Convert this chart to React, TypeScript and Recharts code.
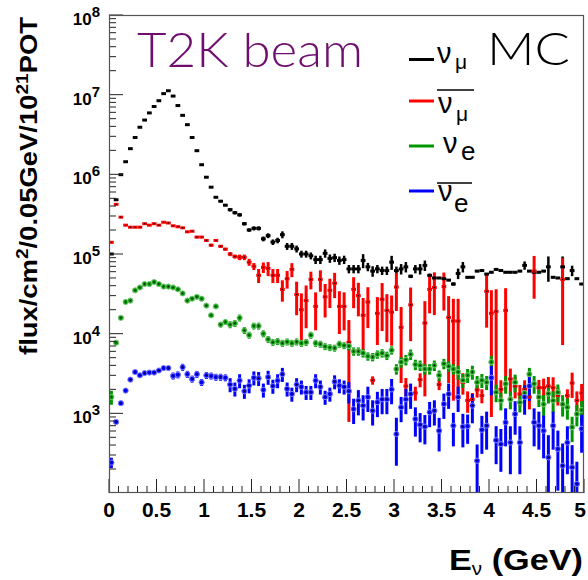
import React from 'react';
import { ComposedChart, Scatter, XAxis, YAxis, ErrorBar } from 'recharts';

// ---------------- data (flux per 0.05 GeV bin, 100 bins from 0 to 5 GeV) ----------------
const BIN_WIDTH = 0.05;
const N_BINS = 100;
const binCenters = Array.from({ length: N_BINS }, (_, i) => Math.round((i + 0.5) * BIN_WIDTH * 1000) / 1000);

const numu = [
  1.0e5, 4.8e5, 9.9e5, 1.44e6, 2.1e6, 2.9e6, 3.9e6, 4.8e6, 5.9e6, 7.1e6,
  8.4e6, 1.03e7, 1.12e7, 9.6e6, 7.3e6, 5.5e6, 4.2e6, 2.9e6, 1.98e6, 1.32e6,
  9.2e5, 6.9e5, 5.15e5, 4.6e5, 4.1e5, 3.6e5, 3.3e5, 3.1e5, 2.4e5, 2.0e5,
  2.1e5, 2.1e5, 1.55e5, 1.7e5, 1.41e5, 1.48e5, 1.75e5, 1.25e5, 1.25e5, 1.16e5,
  1.0e5, 1.0e5, 9.5e4, 8.5e4, 8.5e4, 1.02e5, 8.8e4, 9.0e4, 8.3e4, 8.5e4,
  6.5e4, 6.5e4, 6.5e4, 8.3e4, 6.9e4, 6.1e4, 6.5e4, 6.2e4, 6.2e4, 7.9e4,
  6.2e4, 6.5e4, 6.9e4, 5.25e4, 6.5e4, 6.5e4, 7.2e4, 5.4e4, 5.0e4, 5.0e4,
  4.9e4, 4.7e4, 4.2e4, 5.7e4, 6.9e4, 5.1e4, 5.1e4, 6.1e4, 6.2e4, 5.6e4,
  5.9e4, 6.4e4, 6.2e4, 5.9e4, 5.9e4, 5.9e4, 6.1e4, 7.2e4, 6.1e4, 5.9e4,
  5.9e4, 6.1e4, 6.9e4, 5.1e4, 5.0e4, 6.9e4, 4.9e4, 6.2e4, 4.9e4, 4.2e4,
];
const numuRelErr = [
  0.01, 0.01, 0.01, 0.01, 0.01, 0.01, 0.01, 0.01, 0.01, 0.01,
  0.01, 0.01, 0.01, 0.01, 0.01, 0.01, 0.01, 0.01, 0.01, 0.01,
  0.02, 0.02, 0.02, 0.03, 0.03, 0.05, 0.05, 0.05, 0.05, 0.05,
  0.06, 0.06, 0.07, 0.07, 0.08, 0.08, 0.1, 0.1, 0.1, 0.1,
  0.1, 0.1, 0.1, 0.12, 0.12, 0.12, 0.12, 0.12, 0.12, 0.12,
  0.12, 0.12, 0.12, 0.2, 0.12, 0.15, 0.12, 0.12, 0.12, 0.2,
  0.12, 0.15, 0.15, 0.05, 0.12, 0.15, 0.15, 0.05, 0.03, 0.03,
  0.03, 0.03, 0.05, 0.15, 0.15, 0.03, 0.03, 0.03, 0.03, 0.03,
  0.03, 0.03, 0.03, 0.03, 0.03, 0.03, 0.03, 0.12, 0.03, 0.03,
  0.03, 0.03, 0.35, 0.03, 0.03, 0.35, 0.03, 0.15, 0.03, 0.03,
];

const numubar = [
  1.4e5, 4.2e5, 2.9e5, 2.3e5, 2.17e5, 2.17e5, 2.17e5, 2.4e5, 2.3e5, 2.4e5,
  2.3e5, 2.5e5, 2.45e5, 2.26e5, 2.2e5, 2.13e5, 1.9e5, 1.93e5, 1.63e5, 1.63e5,
  1.48e5, 1.29e5, 1.48e5, 1.25e5, 1.15e5, 1.0e5, 9.3e4, 9.1e4, 9.1e4, 7.9e4,
  7.0e4, 5.4e4, 6.8e4, 6.6e4, 5.4e4, 5.4e4, 3.6e4, 4.9e4, 6.4e4, 3.1e4,
  2.0e4, 2.6e4, 4.8e4, 2.2e4, 4.8e4, 2.9e4, 3.5e4, 4.3e4, 2.2e4, 2.2e4,
  7.8e3, 3.6e4, 3.0e4, 1.7e4, 2.5e4, 2.6e3, 1.8e4, 2.7e4, 1.96e4, 1.86e4,
  3.85e4, 1.2e4, 2.2e3, 2.3e4, 1.8e3, 2.65e3, 1.36e4, 3.6e4, 3.8e4, 2.3e3,
  3.9e4, 1.6e4, 1.44e4, 1.44e4, 2.45e3, 1.45e3, 1.5e3, 1.97e3, 1.67e3, 3.4e4,
  1.8e4, 1.9e4, 2.0e3, 1.96e4, 2.7e3, 2.2e3, 1.75e3, 2.0e3, 1.6e3, 6.1e4,
  2.1e3, 2.1e3, 2.2e3, 2.1e3, 1.67e3, 4.8e4, 1.67e3, 2.4e3, 1.45e3, 1.8e3,
];
const numubarRelErr = [
  0.02, 0.02, 0.02, 0.02, 0.02, 0.02, 0.02, 0.02, 0.02, 0.02,
  0.02, 0.02, 0.02, 0.02, 0.02, 0.02, 0.02, 0.02, 0.03, 0.03,
  0.03, 0.04, 0.04, 0.04, 0.04, 0.06, 0.06, 0.08, 0.08, 0.1,
  0.1, 0.2, 0.15, 0.2, 0.2, 0.2, 0.3, 0.25, 0.2, 0.45,
  0.6, 0.55, 0.25, 0.5, 0.3, 0.45, 0.4, 0.35, 0.55, 0.5,
  0.9, 0.42, 0.45, 0.65, 0.53, 0.12, 0.6, 0.6, 0.6, 0.62,
  0.5, 0.8, 0.26, 0.65, 0.2, 0.2, 0.88, 0.5, 0.55, 0.15,
  0.5, 0.85, 0.9, 0.9, 0.3, 0.3, 0.2, 0.2, 0.2, 0.65,
  0.95, 0.9, 0.3, 0.9, 0.35, 0.3, 0.3, 0.3, 0.3, 0.55,
  0.25, 0.3, 0.3, 0.35, 0.25, 0.85, 0.2, 0.35, 0.3, 0.3,
];

const nue = [
  1.6e3, 7.7e3, 1.58e4, 2.5e4, 2.6e4, 3.5e4, 3.8e4, 4.2e4, 4.2e4, 4.45e4,
  4.2e4, 3.9e4, 3.9e4, 3.8e4, 3.6e4, 3.2e4, 2.6e4, 2.75e4, 2.9e4, 2.75e4,
  2.25e4, 1.7e4, 2.2e4, 1.3e4, 1.4e4, 1.3e4, 1.35e4, 1.58e4, 1.1e4, 9.6e3,
  1.25e4, 1.25e4, 1.0e4, 8.5e3, 7.8e3, 8.0e3, 7.6e3, 7.9e3, 7.6e3, 7.9e3,
  7.6e3, 7.8e3, 9.6e3, 7.6e3, 7.4e3, 6.9e3, 6.7e3, 6.6e3, 7.4e3, 7.1e3,
  7.0e3, 6.0e3, 6.0e3, 5.7e3, 5.2e3, 5.1e3, 5.5e3, 5.7e3, 5.3e3, 6.2e3,
  3.6e3, 4.4e3, 4.7e3, 5.5e3, 4.1e3, 4.0e3, 3.6e3, 3.6e3, 4.0e3, 3.0e3,
  4.2e3, 3.9e3, 3.6e3, 3.3e3, 2.6e3, 3.0e3, 3.3e3, 2.45e3, 2.6e3, 2.45e3,
  4.4e3, 1.84e3, 1.45e3, 2.35e3, 1.5e3, 2.45e3, 1.37e3, 1.8e3, 3.1e3, 2.35e3,
  1.6e3, 1.3e3, 1.77e3, 1.45e3, 1.84e3, 1.3e3, 1.19e3, 670, 980, 1.1e3,
];
const nueRelErr = [
  0.2, 0.03, 0.03, 0.03, 0.03, 0.03, 0.03, 0.03, 0.03, 0.03,
  0.05, 0.05, 0.05, 0.05, 0.05, 0.05, 0.05, 0.05, 0.05, 0.05,
  0.06, 0.06, 0.06, 0.08, 0.08, 0.1, 0.1, 0.1, 0.1, 0.1,
  0.1, 0.1, 0.1, 0.1, 0.1, 0.1, 0.1, 0.1, 0.1, 0.1,
  0.1, 0.1, 0.1, 0.1, 0.1, 0.1, 0.1, 0.1, 0.1, 0.1,
  0.12, 0.12, 0.12, 0.12, 0.12, 0.12, 0.12, 0.12, 0.12, 0.12,
  0.15, 0.15, 0.15, 0.15, 0.15, 0.15, 0.15, 0.15, 0.15, 0.15,
  0.15, 0.15, 0.15, 0.2, 0.2, 0.2, 0.2, 0.2, 0.2, 0.2,
  0.2, 0.25, 0.25, 0.25, 0.25, 0.25, 0.25, 0.25, 0.2, 0.25,
  0.25, 0.3, 0.25, 0.3, 0.25, 0.3, 0.3, 0.35, 0.3, 0.3,
];

const nuebar = [
  241, 780, 1.34e3, 1.93e3, 2.65e3, 3.3e3, 3.0e3, 3.2e3, 3.25e3, 3.25e3,
  3.45e3, 3.7e3, 3.7e3, 2.95e3, 3.05e3, 3.8e3, 3.1e3, 2.7e3, 3.1e3, 2.45e3,
  3.0e3, 2.95e3, 2.85e3, 2.85e3, 2.8e3, 2.3e3, 2.03e3, 2.58e3, 1.9e3, 2.23e3,
  2.8e3, 2.75e3, 1.97e3, 2.85e3, 2.2e3, 2.58e3, 3.1e3, 2.03e3, 1.75e3, 2.3e3,
  2.15e3, 1.84e3, 1.84e3, 2.58e3, 2.15e3, 1.6e3, 1.75e3, 2.5e3, 2.23e3, 2.15e3,
  1.9e3, 1.13e3, 1.45e3, 1.25e3, 1.6e3, 1.08e3, 1.38e3, 1.5e3, 1.5e3, 2.0e3,
  550, 1.19e3, 1.5e3, 1.75e3, 850, 720, 680, 1.03e3, 1.08e3, 605,
  1.31e3, 1.75e3, 700, 1.6e3, 680, 690, 1.25e3, 254, 620, 700,
  2.8e3, 460, 410, 770, 430, 980, 430, 1.6e3, 2.2e3, 770,
  700, 605, 280, 700, 357, 220, 430, 210, 130, 640,
];
const nuebarRelErr = [
  0.15, 0.05, 0.05, 0.05, 0.05, 0.05, 0.05, 0.05, 0.05, 0.05,
  0.05, 0.05, 0.05, 0.1, 0.1, 0.1, 0.1, 0.1, 0.1, 0.1,
  0.1, 0.1, 0.1, 0.1, 0.1, 0.2, 0.2, 0.2, 0.2, 0.2,
  0.2, 0.2, 0.2, 0.2, 0.2, 0.2, 0.2, 0.2, 0.2, 0.2,
  0.2, 0.2, 0.2, 0.2, 0.2, 0.2, 0.2, 0.2, 0.2, 0.2,
  0.3, 0.35, 0.35, 0.35, 0.35, 0.35, 0.35, 0.35, 0.35, 0.35,
  0.6, 0.35, 0.35, 0.35, 0.4, 0.4, 0.4, 0.35, 0.35, 0.45,
  0.35, 0.35, 0.45, 0.35, 0.45, 0.4, 0.4, 0.6, 0.5, 0.5,
  0.4, 0.5, 0.55, 0.5, 0.6, 0.45, 0.6, 0.4, 0.35, 0.5,
  0.5, 0.55, 0.9, 0.5, 0.7, 0.9, 0.6, 0.9, 0.9, 0.5,
];

// ---------------- axis ticks ----------------
const Y_MIN = 100;
const Y_MAX = 1e8;
const yTicks: number[] = [];
for (let n = 2; n <= 7; n++) {
  for (let m = 1; m <= 9; m++) {
    const v = m * Math.pow(10, n);
    if (v > Y_MIN) yTicks.push(v);
  }
}
yTicks.push(Y_MAX);
const X_MAX = 5;
const xTicks = Array.from({ length: 51 }, (_, i) => i / 10);

// ---------------- layout ----------------
const W = 588;
const H = 580;
const PLOT_LEFT = 109;
const PLOT_TOP = 15;
const PLOT_RIGHT = 584;
const PLOT_BOTTOM = 493;
const BIN_PX = (PLOT_RIGHT - PLOT_LEFT) / N_BINS;
const FONT = "'Liberation Sans', Arial, Helvetica, sans-serif";
const TITLE_FONT = "Lato, 'Open Sans', sans-serif";

const COLORS = {
  numu: '#000000',
  numubar: '#ff0000',
  nue: '#009600',
  nuebar: '#0000ff',
};

function buildSeries(values: number[], relErr: number[]) {
  return values.map((v, i) => {
    const s = v * relErr[i];
    const low = Math.min(s, v - Y_MIN * 1.002);
    return { e: binCenters[i], flux: v, err: [low, s] };
  });
}

const numuData = buildSeries(numu, numuRelErr);
const numubarData = buildSeries(numubar, numubarRelErr);
const nueData = buildSeries(nue, nueRelErr);
const nuebarData = buildSeries(nuebar, nuebarRelErr);

const dashShape = (color: string, dot: boolean) => (props: any) => {
  const { cx, cy } = props;
  if (cx == null || cy == null || isNaN(cx) || isNaN(cy)) return <g />;
  return (
    <g>
      <rect x={cx - BIN_PX / 2} y={cy - 1.5} width={BIN_PX} height={3} fill={color} />
      {dot && <rect x={cx - 0.6} y={cy - 0.6} width={1.2} height={1.2} fill="#000" />}
    </g>
  );
};

const circleShape = (color: string, halo: string) => (props: any) => {
  const { cx, cy } = props;
  if (cx == null || cy == null || isNaN(cx) || isNaN(cy)) return <g />;
  return (
    <g>
      <rect x={cx - BIN_PX / 2} y={cy - 1.5} width={BIN_PX} height={3} fill={color} />
      <circle cx={cx} cy={cy} r={2.6} fill={color} stroke={halo} strokeWidth={1} />
      <rect x={cx - 0.6} y={cy - 0.6} width={1.2} height={1.2} fill="#000" />
    </g>
  );
};

const YTick = (props: any) => {
  const { y, payload } = props;
  const v = payload.value as number;
  const exp = Math.round(Math.log10(v));
  const major = Math.abs(Math.pow(10, exp) - v) < 1e-6 * v;
  return (
    <g>
      <line x1={PLOT_LEFT} x2={PLOT_LEFT + (major ? 14 : 7)} y1={y} y2={y} stroke="#222" strokeWidth={1} />
      {major && (
        <text x={PLOT_LEFT - 9} y={y + 10} textAnchor="end" fontFamily={FONT} fontWeight="bold" fontSize={17} fill="#000">
          10<tspan dy={-8} fontSize={15}>{exp}</tspan>
        </text>
      )}
    </g>
  );
};

const XTick = (props: any) => {
  const { x, payload } = props;
  const v = payload.value as number;
  const major = Math.abs(v * 2 - Math.round(v * 2)) < 1e-6;
  const label = String(Math.round(v * 10) / 10);
  const isLast = Math.abs(v - X_MAX) < 1e-6;
  return (
    <g>
      <line x1={x} x2={x} y1={PLOT_BOTTOM} y2={PLOT_BOTTOM - (major ? 14 : 7)} stroke="#222" strokeWidth={1} />
      {major && (
        <text
          x={isLast ? W - 2 : x}
          y={PLOT_BOTTOM + 24}
          textAnchor={isLast ? 'end' : 'middle'}
          fontFamily={FONT}
          fontWeight="bold"
          fontSize={21}
          fill="#000"
        >
          {label}
        </text>
      )}
    </g>
  );
};

export default function App() {
  return (
    <div style={{ position: 'absolute', left: 0, top: 0, width: W, height: H, background: '#fff' }}>
      <ComposedChart
        width={W}
        height={H}
        margin={{ top: PLOT_TOP, right: W - PLOT_RIGHT, bottom: H - PLOT_BOTTOM - 80, left: PLOT_LEFT - 100 }}
      >
        <XAxis
          type="number"
          dataKey="e"
          domain={[0, X_MAX]}
          ticks={xTicks}
          interval={0}
          allowDataOverflow
          axisLine={false}
          tickLine={false}
          tick={XTick}
          height={80}
        />
        <YAxis
          type="number"
          dataKey="flux"
          scale="log"
          domain={[Y_MIN, Y_MAX]}
          ticks={yTicks}
          interval={0}
          allowDataOverflow
          axisLine={false}
          tickLine={false}
          tick={YTick}
          width={100}
        />
        <Scatter data={numuData} dataKey="flux" isAnimationActive={false} shape={dashShape(COLORS.numu, false)}>
          <ErrorBar dataKey="err" direction="y" width={0} strokeWidth={2.5} stroke={COLORS.numu} isAnimationActive={false} />
        </Scatter>
        <Scatter data={numubarData} dataKey="flux" isAnimationActive={false} shape={dashShape(COLORS.numubar, true)}>
          <ErrorBar dataKey="err" direction="y" width={0} strokeWidth={3} stroke={COLORS.numubar} isAnimationActive={false} />
        </Scatter>
        <Scatter data={nueData} dataKey="flux" isAnimationActive={false} shape={circleShape(COLORS.nue, '#7cc87c')}>
          <ErrorBar dataKey="err" direction="y" width={0} strokeWidth={3} stroke={COLORS.nue} isAnimationActive={false} />
        </Scatter>
        <Scatter data={nuebarData} dataKey="flux" isAnimationActive={false} shape={circleShape(COLORS.nuebar, '#8080ff')}>
          <ErrorBar dataKey="err" direction="y" width={0} strokeWidth={3} stroke={COLORS.nuebar} isAnimationActive={false} />
        </Scatter>
      </ComposedChart>
      <svg width={W} height={H} style={{ position: 'absolute', left: 0, top: 0, pointerEvents: 'none' }}>
        <rect
          x={PLOT_LEFT + 0.5}
          y={PLOT_TOP + 0.5}
          width={PLOT_RIGHT - PLOT_LEFT - 1}
          height={PLOT_BOTTOM - PLOT_TOP - 1}
          fill="none"
          stroke="#555"
          strokeWidth={1.2}
        />
        {/* title */}
        <text x={137} y={67} fontFamily={TITLE_FONT} fontWeight={300} fontSize={47} fill="#6e0e6e"
          textLength={226} lengthAdjust="spacingAndGlyphs">
          T2K beam
        </text>
        <text x={487} y={65} fontFamily={TITLE_FONT} fontWeight={300} fontSize={45} fill="#000"
          textLength={83} lengthAdjust="spacingAndGlyphs">
          MC
        </text>
        {/* legend */}
        <line x1={409} x2={434} y1={59.5} y2={59.5} stroke={COLORS.numu} strokeWidth={3} />
        <text x={437} y={63} fontFamily={FONT} fontSize={29} fill="#000">ν</text>
        <text x={455} y={69} fontFamily={FONT} fontSize={21} fill="#000">μ</text>

        <line x1={409} x2={434} y1={101} y2={101} stroke={COLORS.numubar} strokeWidth={3} />
        <line x1={437} x2={474} y1={90} y2={90} stroke="#000" strokeWidth={1.5} />
        <text x={438} y={113} fontFamily={FONT} fontSize={29} fill="#000">ν</text>
        <text x={456} y={121} fontFamily={FONT} fontSize={21} fill="#000">μ</text>

        <line x1={409} x2={434} y1={146} y2={146} stroke={COLORS.nue} strokeWidth={3} />
        <text x={443} y={153} fontFamily={FONT} fontSize={29} fill="#000">ν</text>
        <text x={461} y={160} fontFamily={FONT} fontSize={26} fill="#000">e</text>

        <line x1={409} x2={434} y1={191} y2={191} stroke={COLORS.nuebar} strokeWidth={3} />
        <line x1={437} x2={472} y1={183} y2={183} stroke="#000" strokeWidth={1.5} />
        <text x={438} y={201} fontFamily={FONT} fontSize={29} fill="#000">ν</text>
        <text x={454} y={212} fontFamily={FONT} fontSize={26} fill="#000">e</text>

        {/* axis titles */}
        <text
          transform="translate(37, 186) rotate(-90)"
          textAnchor="middle"
          fontFamily={FONT}
          fontWeight="bold"
          fontSize={23}
          fill="#000"
          textLength={338}
          lengthAdjust="spacingAndGlyphs"
        >
          flux/cm<tspan dy={-9} fontSize={16}>2</tspan>
          <tspan dy={9}>/0.05GeV/10</tspan>
          <tspan dy={-9} fontSize={16}>21</tspan>
          <tspan dy={9}>POT</tspan>
        </text>
        <text x={583} y={570} textAnchor="end" fontFamily={FONT} fontWeight="bold" fontSize={30} fill="#000"
          textLength={134} lengthAdjust="spacingAndGlyphs">
          E<tspan dy={5} fontSize={18} fontWeight="normal">ν</tspan>
          <tspan dy={-5}> (GeV)</tspan>
        </text>
      </svg>
    </div>
  );
}
